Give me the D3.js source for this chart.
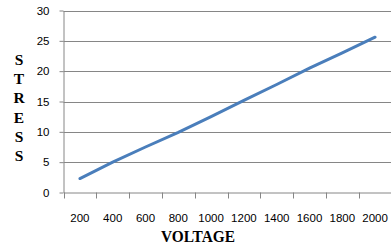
<!DOCTYPE html>
<html>
<head>
<meta charset="utf-8">
<script src="https://cdn.jsdelivr.net/npm/d3@7"></script>
<style>
  body { margin: 0; background: #fff; }
  svg { display: block; }
</style>
</head>
<body>
<div id="chart"></div>
<script>
// chart data
const voltages = ["200", "400", "600", "800", "1000", "1200", "1400", "1600", "1800", "2000"];
const stress = [2.3, 5.0, 7.5, 9.9, 12.5, 15.2, 17.8, 20.5, 23.0, 25.6];
const yTicks = [0, 5, 10, 15, 20, 25, 30];
const yTitle = "STRESS";
const xTitle = "VOLTAGE";

const width = 391, height = 247;
const plotLeft = 63.5, plotRight = 391.5, plotTop = 10.5, plotBottom = 192.5;

const svg = d3.select("#chart").append("svg")
  .attr("width", width)
  .attr("height", height);

const x = d3.scaleBand().domain(voltages).range([plotLeft, plotRight]);
const y = d3.scaleLinear().domain([0, 30]).range([plotBottom, plotTop]);

// horizontal grid lines
svg.append("g")
  .selectAll("line")
  .data(yTicks.filter(d => d > 0))
  .join("line")
  .attr("x1", plotLeft).attr("x2", width)
  .attr("y1", d => Math.round(y(d)) + 0.5)
  .attr("y2", d => Math.round(y(d)) + 0.5)
  .attr("stroke", "#868686");

// y axis
const yAxis = svg.append("g")
  .attr("transform", `translate(${plotLeft},0)`)
  .call(d3.axisLeft(y).tickValues(yTicks).tickSize(4).tickPadding(10).tickSizeOuter(0));
yAxis.select(".domain").attr("stroke", "#868686");
yAxis.selectAll(".tick line").attr("stroke", "#868686");
yAxis.selectAll(".tick text")
  .attr("font-family", "Liberation Sans, Arial, sans-serif")
  .attr("font-size", 11.5)
  .attr("fill", "#000");

// x axis, ticks on band edges
const xAxis = svg.append("g")
  .attr("transform", `translate(0,${plotBottom})`)
  .call(d3.axisBottom(x).tickSize(0).tickPadding(21).tickSizeOuter(0));
xAxis.select(".domain").attr("stroke", "#868686");
xAxis.selectAll(".tick text")
  .attr("font-family", "Liberation Sans, Arial, sans-serif")
  .attr("font-size", 11.5)
  .attr("fill", "#000");
xAxis.selectAll(".edge")
  .data(voltages)
  .join("line")
  .attr("class", "edge")
  .attr("x1", d => Math.round(x(d)) + 0.5)
  .attr("x2", d => Math.round(x(d)) + 0.5)
  .attr("y1", 0).attr("y2", 6)
  .attr("stroke", "#868686");

// data line
const line = d3.line()
  .x((d, i) => x(voltages[i]) + x.bandwidth() / 2)
  .y(d => y(d));

svg.append("path")
  .datum(stress)
  .attr("d", line)
  .attr("fill", "none")
  .attr("stroke", "#4a7ebb")
  .attr("stroke-width", 3)
  .attr("stroke-linecap", "round");

// axis titles
svg.append("text")
  .attr("x", 198)
  .attr("y", 241.5)
  .attr("text-anchor", "middle")
  .attr("font-family", "Liberation Serif, Times New Roman, serif")
  .attr("font-weight", "bold")
  .attr("font-size", 16.5)
  .attr("textLength", 74)
  .attr("lengthAdjust", "spacingAndGlyphs")
  .text(xTitle);

svg.append("g")
  .selectAll("text")
  .data(yTitle.split(""))
  .join("text")
  .attr("x", 19)
  .attr("y", (d, i) => 65 + i * 19.2)
  .attr("text-anchor", "middle")
  .attr("font-family", "Liberation Serif, Times New Roman, serif")
  .attr("font-weight", "bold")
  .attr("font-size", 15.5)
  .text(d => d);
</script>
</body>
</html>
